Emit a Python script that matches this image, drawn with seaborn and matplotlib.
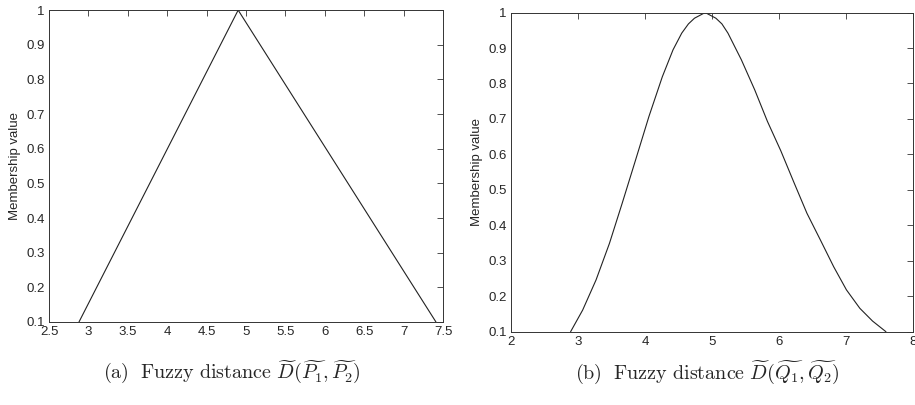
import matplotlib
matplotlib.use('Agg')
import pandas as pd
import matplotlib.pyplot as plt
import seaborn as sns

# (a) triangular fuzzy distance
tri_x = [2.88, 4.90, 7.41]
tri_y = [0.1, 1.0, 0.1]

# (b) bell shaped fuzzy distance
bell_x = [2.89, 3.07, 3.27, 3.47, 3.66, 3.86, 4.06, 4.26, 4.42, 4.55, 4.65, 4.74, 4.90,
          5.06, 5.15, 5.24, 5.44, 5.64, 5.83, 6.03, 6.23, 6.42, 6.62, 6.82, 7.01,
          7.21, 7.40, 7.60]
bell_y = [0.10, 0.161, 0.246, 0.349, 0.462, 0.584, 0.707, 0.819, 0.895, 0.942, 0.968, 0.984, 1.0,
          0.984, 0.968, 0.942, 0.867, 0.782, 0.693, 0.610, 0.519, 0.434, 0.359, 0.283, 0.218,
          0.166, 0.130, 0.10]

yticks = [0.1, 0.2, 0.3, 0.4, 0.5, 0.6, 0.7, 0.8, 0.9, 1.0]
ytick_labels = ['0.1', '0.2', '0.3', '0.4', '0.5', '0.6', '0.7', '0.8', '0.9', '1']
xticks_a = [2.5, 3, 3.5, 4, 4.5, 5, 5.5, 6, 6.5, 7, 7.5]
xtick_labels_a = ['2.5', '3', '3.5', '4', '4.5', '5', '5.5', '6', '6.5', '7', '7.5']
xticks_b = [2, 3, 4, 5, 6, 7, 8]
xtick_labels_b = ['2', '3', '4', '5', '6', '7', '8']

caption_a = r'$\mathrm{(a)\ \ Fuzzy\ distance}\ \widetilde{D}(\widetilde{P_1},\widetilde{P_2})$'
caption_b = r'$\mathrm{(b)\ \ Fuzzy\ distance}\ \widetilde{D}(\widetilde{Q_1},\widetilde{Q_2})$'

sns.set_style('white')
plt.rcParams['font.family'] = ['Liberation Sans', 'DejaVu Sans']
plt.rcParams['mathtext.fontset'] = 'cm'
plt.rcParams['xtick.direction'] = 'in'
plt.rcParams['ytick.direction'] = 'in'

fig = plt.figure(figsize=(9.15, 4.05), dpi=100)
ax1 = fig.add_axes([0.0536, 0.205, 0.4306, 0.770])
ax2 = fig.add_axes([0.5585, 0.181, 0.439, 0.788])

df_a = pd.DataFrame({'x': tri_x, 'y': tri_y})
df_b = pd.DataFrame({'x': bell_x, 'y': bell_y})

sns.lineplot(data=df_a, x='x', y='y', ax=ax1, color='#222222', linewidth=0.8, sort=False)
sns.lineplot(data=df_b, x='x', y='y', ax=ax2, color='#222222', linewidth=0.8, sort=False)

for ax, xt, xl, lim in [(ax1, xticks_a, xtick_labels_a, (2.5, 7.5)),
                        (ax2, xticks_b, xtick_labels_b, (2, 8))]:
    ax.set_xlim(*lim)
    ax.set_ylim(0.1, 1.0)
    ax.set_xticks(xt)
    ax.set_xticklabels(xl)
    ax.set_yticks(yticks)
    ax.set_yticklabels(ytick_labels)
    ax.tick_params(which='both', top=True, right=True, length=4, width=0.6,
                   color='#333333', labelsize=9.5, labelcolor='#262626', pad=3)
    for s in ax.spines.values():
        s.set_visible(True)
        s.set_color('#333333')
        s.set_linewidth(0.7)
    ax.set_xlabel('')
    ax.set_ylabel('Membership value', fontsize=9.5, color='#262626', labelpad=4)

fig.text(0.253, 0.081, caption_a, ha='center', va='center', fontsize=14.5)
fig.text(0.773, 0.081, caption_b, ha='center', va='center', fontsize=14.5)

plt.savefig('out.png', dpi=100)
